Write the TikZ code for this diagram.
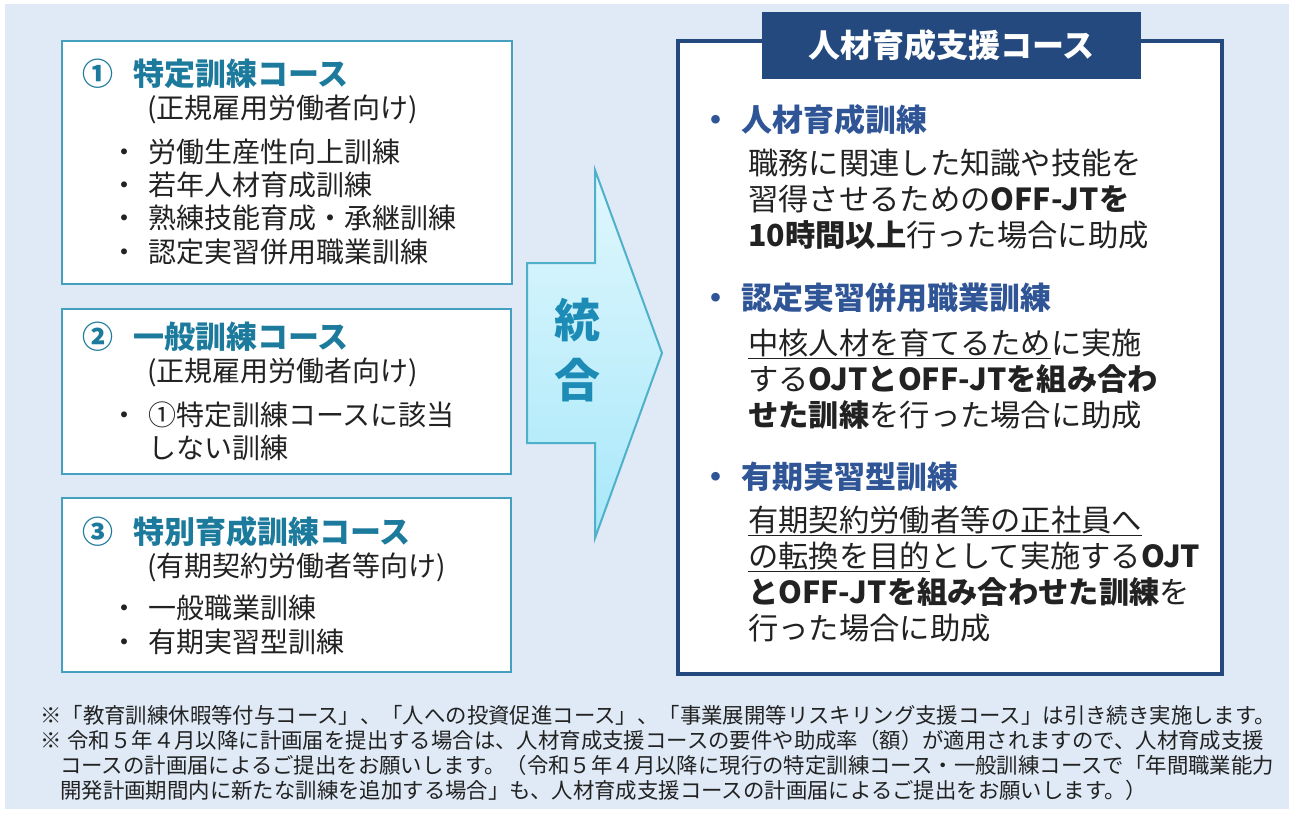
\documentclass[tikz,border=0pt]{standalone}
\usepackage{fontspec}
\setmainfont{Noto Sans CJK JP}

\definecolor{bgblue}{HTML}{DFEAF6}
\definecolor{boxteal}{HTML}{44A0BE}
\definecolor{titleteal}{HTML}{1C7A9C}
\definecolor{bodytext}{HTML}{222222}
\definecolor{arrowtop}{HTML}{E0F7FD}
\definecolor{arrowbot}{HTML}{A8E8FA}
\definecolor{arrowline}{HTML}{4FB0CA}
\definecolor{arrowtext}{HTML}{1C8CB6}
\definecolor{navy}{HTML}{24497E}
\definecolor{headblue}{HTML}{2F5597}

\newcommand{\itm}{\makebox[38pt][l]{・}}
\newcommand{\hitm}{\makebox[41pt][l]{・}}

\tikzset{
  coursebox/.style={draw=boxteal, line width=2.5pt, fill=white},
  coursetitle/.style={anchor=west, inner sep=0pt, text=titleteal,
    font=\fontsize{31}{37}\selectfont\bfseries},
  coursesub/.style={anchor=west, inner sep=0pt, text=bodytext,
    font=\fontsize{28}{33}\selectfont},
  courseitem/.style={anchor=west, inner sep=0pt, align=left, text=bodytext,
    font=\fontsize{28}{33.3}\selectfont},
  mainbox/.style={draw=navy, line width=3.5pt, fill=white},
  mainbar/.style={fill=navy, text=white, inner sep=0pt, minimum width=379pt,
    minimum height=67pt, font=\fontsize{32}{38}\selectfont\bfseries},
  mainhead/.style={anchor=west, inner sep=0pt, text=headblue,
    font=\fontsize{31}{37}\selectfont\bfseries},
  mainbody/.style={anchor=west, inner sep=0pt, align=left, text=bodytext,
    font=\fontsize{30.3}{36.2}\selectfont},
  footnote/.style={anchor=west, inner sep=0pt, align=left, text=bodytext,
    font=\fontsize{21.4}{24.7}\selectfont}
}

\begin{document}
\begin{tikzpicture}[x=1pt, y=-1pt]
  \useasboundingbox (0,0) rectangle (1289,812);
  % background
  \fill[bgblue] (5,4) rectangle (1289,809);

  % the three old courses
  \draw[coursebox] (62,41) rectangle (512,284);
  \draw[coursebox] (62,309) rectangle (511,474);
  \draw[coursebox] (62,498) rectangle (511,672);

  \node[coursetitle] (title1) at (82,74) {\makebox[51pt][l]{①}特定訓練コース};
  \node[coursesub] (sub1) at (147,109) {(正規雇用労働者向け)};
  \node[courseitem] (list1) at (110,201.5) {\itm 労働生産性向上訓練\\
    \itm 若年人材育成訓練\\ \itm 熟練技能育成・承継訓練\\ \itm 認定実習併用職業訓練};

  \node[coursetitle] (title2) at (82,337) {\makebox[51pt][l]{②}一般訓練コース};
  \node[coursesub] (sub2) at (147,372) {(正規雇用労働者向け)};
  \node[courseitem] (list2) at (110,431.5) {\itm ①特定訓練コースに該当\\
    \hspace{38pt}しない訓練};

  \node[coursetitle] (title3) at (82,532) {\makebox[51pt][l]{③}特別育成訓練コース};
  \node[coursesub] (sub3) at (147,567) {(有期契約労働者等向け)};
  \node[courseitem] (list3) at (110,625) {\itm 一般職業訓練\\ \itm 有期実習型訓練};

  % the merge arrow
  \shade[top color=arrowtop, bottom color=arrowbot, draw=arrowline, line width=2pt]
    (527,263) -- (595,263) -- (595,170) -- (662,353) -- (595,538)
    -- (595,443) -- (527,443) -- cycle;
  \node[inner sep=0pt, align=center, text=arrowtext,
    font=\fontsize{46}{60}\selectfont\bfseries] (merge) at (577,350) {統\\合};

  % the new course
  \draw[mainbox] (678,41) rectangle (1222,674);
  \node[mainbar] (bar) at (951.5,45.5) {人材育成支援コース};

  \node[mainhead] (head1) at (700,120) {\hitm 人材育成訓練};
  \node[mainbody] (body1) at (748,199) {職務に関連した知識や技能を\\
    習得させるための\textbf{OFF-JTを}\\ \textbf{10時間以上}行った場合に助成};

  \node[mainhead] (head2) at (700,298) {\hitm 認定実習併用職業訓練};
  \node[mainbody] (body2) at (748,379) {\underline{中核人材を育てるため}に実施\\
    する\textbf{OJTとOFF-JTを組み合わ}\\ \textbf{せた訓練}を行った場合に助成};

  \node[mainhead] (head3) at (700,477) {\hitm 有期実習型訓練};
  \node[mainbody] (body3) at (748,574) {\underline{有期契約労働者等の正社員へ}\\
    \underline{の転換を目的}として実施する\textbf{OJT}\\
    \textbf{とOFF-JTを組み合わせた訓練}を\\ 行った場合に助成};

  % notes
  \node[footnote] (notes) at (40,753) {※「教育訓練休暇等付与コース」、「人への投資促進コース」、「事業展開等リスキリング支援コース」は引き続き実施します。\\
    ※\hspace{6pt}令和５年４月以降に計画届を提出する場合は、人材育成支援コースの要件や助成率（額）が適用されますので、人材育成支援\\
    \hspace{20pt}コースの計画届によるご提出をお願いします。（令和５年４月以降に現行の特定訓練コース・一般訓練コースで「年間職業能力\\
    \hspace{20pt}開発計画期間内に新たな訓練を追加する場合」も、人材育成支援コースの計画届によるご提出をお願いします。）};
\end{tikzpicture}
\end{document}
